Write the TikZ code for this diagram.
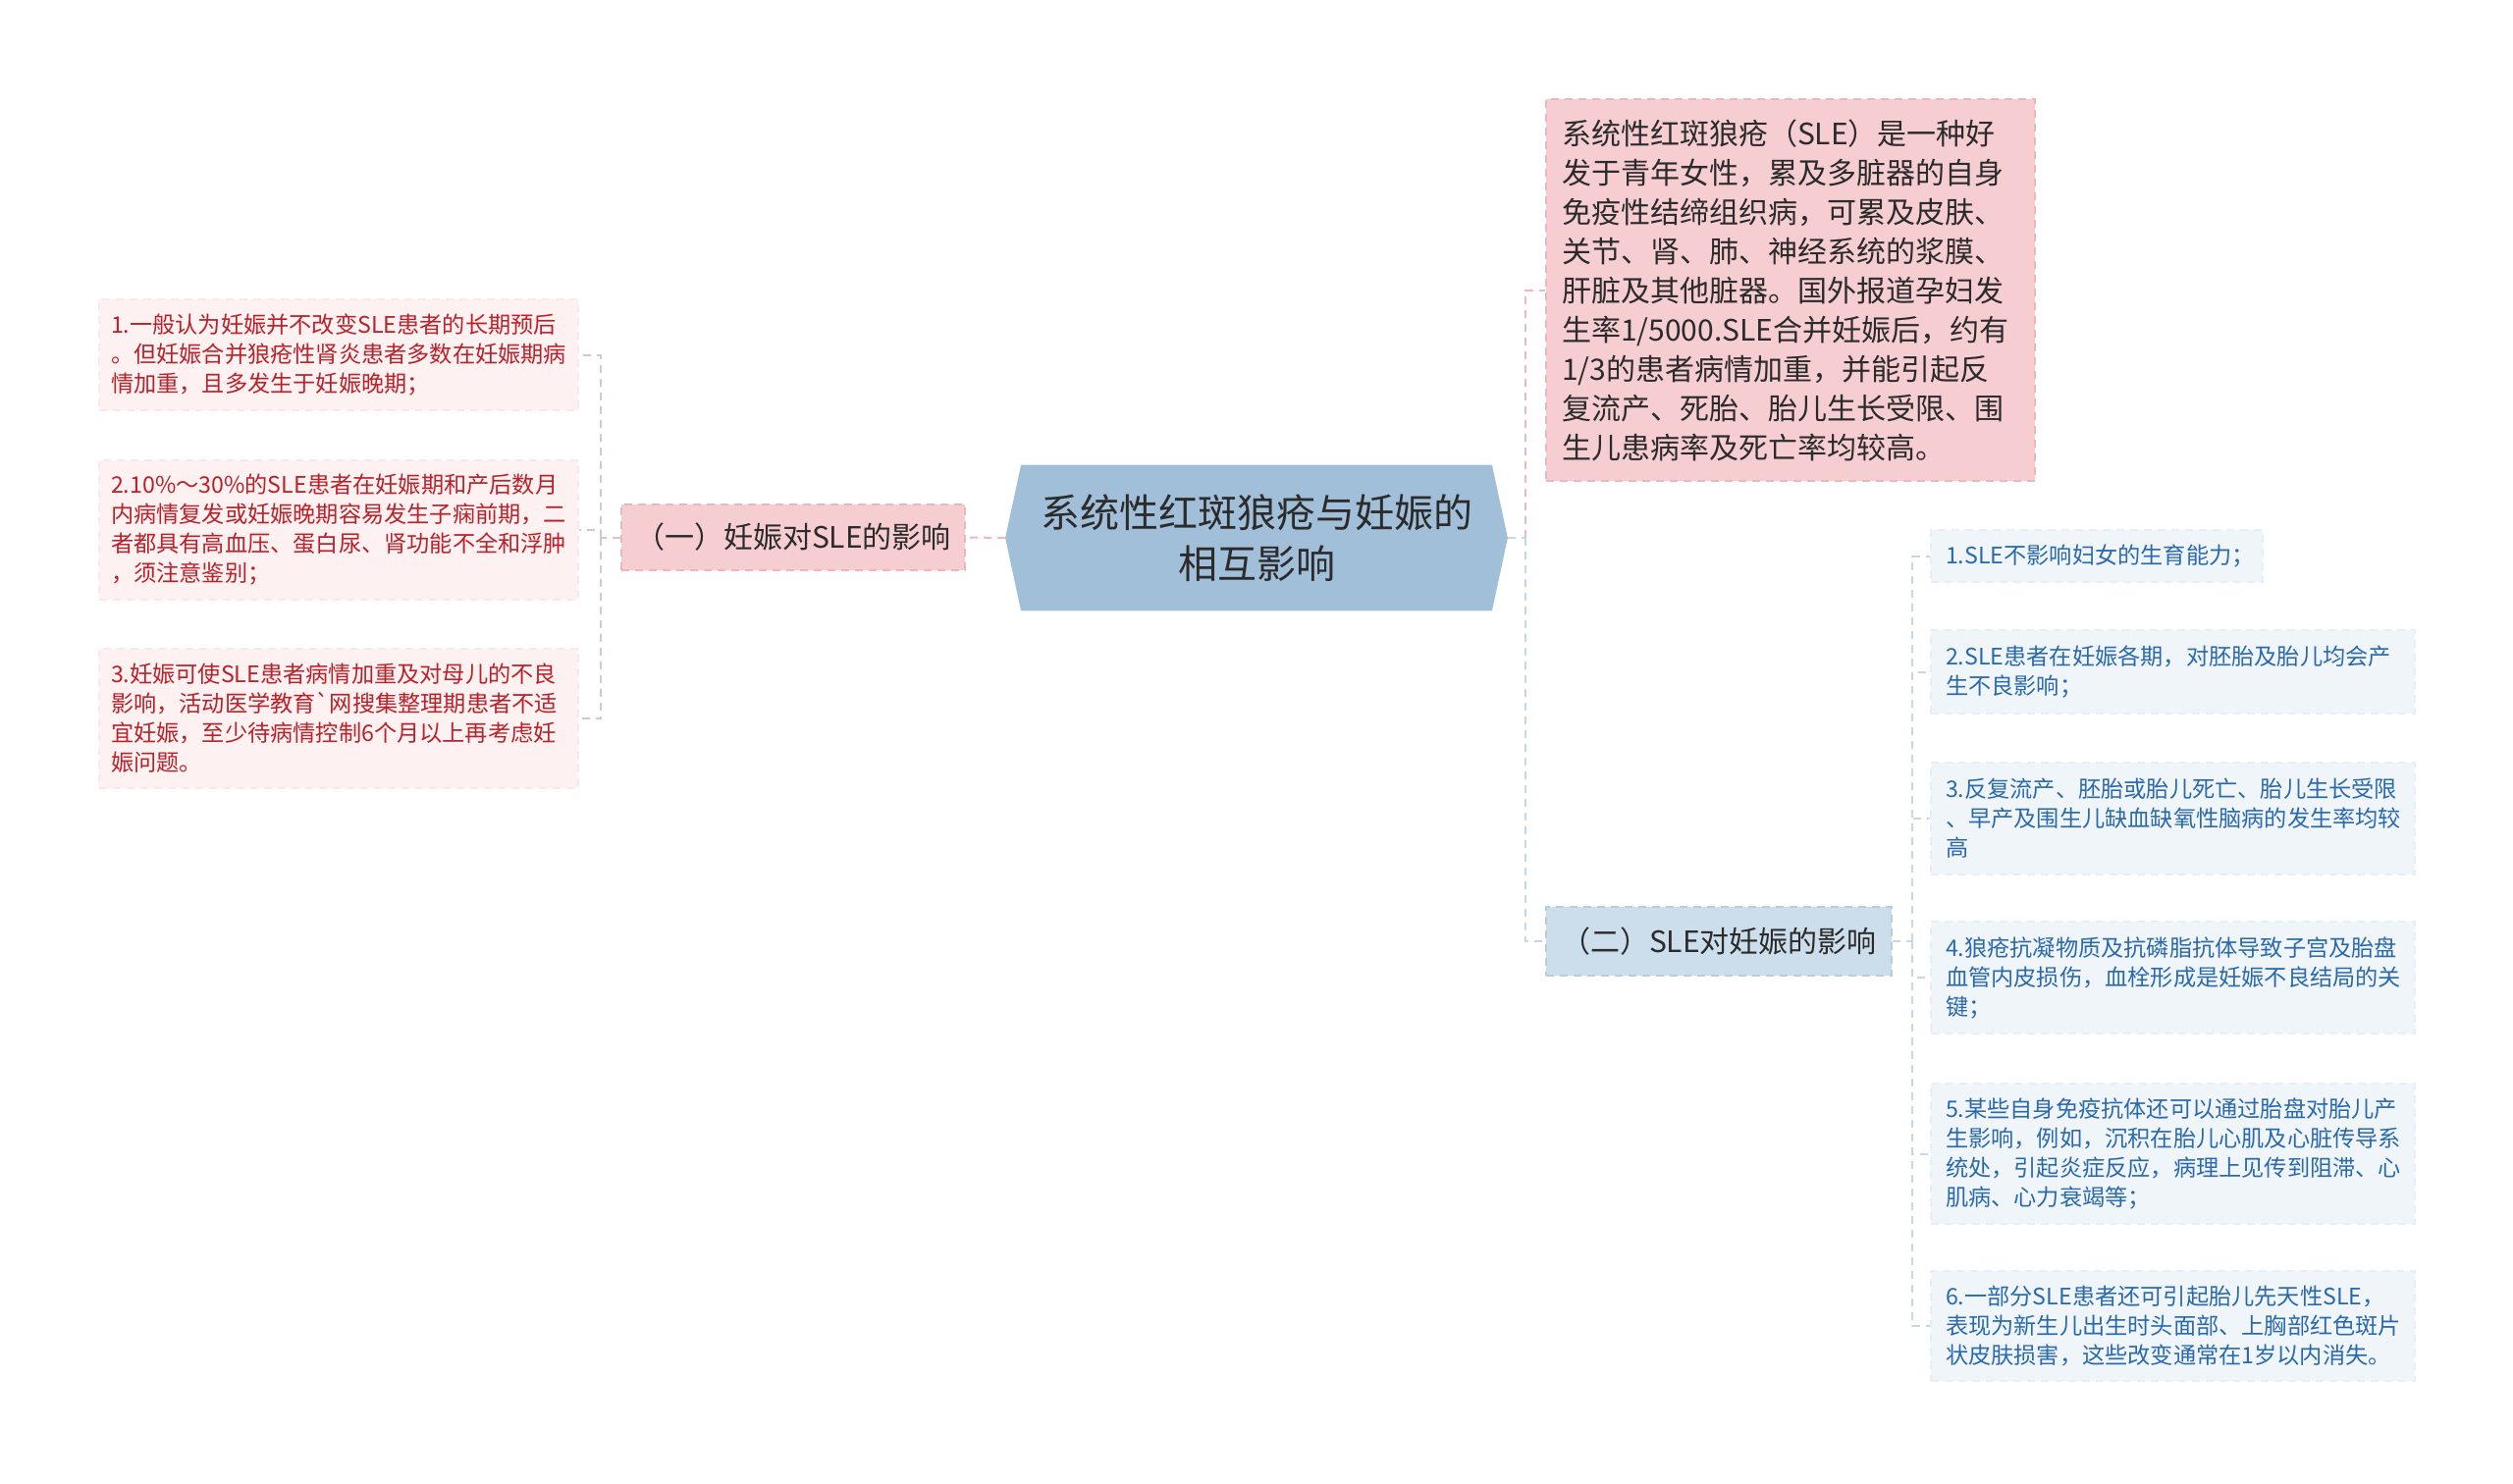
\documentclass[tikz,border=0pt]{standalone}
\usepackage{fontspec}
\newfontfamily\cjk{Noto Sans CJK SC}
\usetikzlibrary{backgrounds}
\definecolor{hexfill}{HTML}{A2BFDA}
\definecolor{darktext}{HTML}{2B2B2B}
\definecolor{pinkfill}{HTML}{F6CDD1}
\definecolor{pinkborder}{HTML}{EBB7BD}
\definecolor{bluefill}{HTML}{CCDDEC}
\definecolor{blueborder}{HTML}{B8CCE0}
\definecolor{litemfill}{HTML}{FDF1F2}
\definecolor{litemborder}{HTML}{FAE8EA}
\definecolor{litemtext}{HTML}{B8222A}
\definecolor{ritemfill}{HTML}{F0F5FA}
\definecolor{ritemborder}{HTML}{E7EEF6}
\definecolor{ritemtext}{HTML}{2A6AAC}
\definecolor{linkpink}{HTML}{EDB9BF}
\definecolor{linkblue}{HTML}{C6D7E8}
\definecolor{linkgray}{HTML}{DCC5C8}
\tikzset{
  conn/.style={line width=1pt, dash pattern=on 4pt off 3pt},
  pinkline/.style={conn, draw=linkpink},
  blueline/.style={conn, draw=linkblue},
  grayline/.style={conn, draw=linkgray},
  litem/.style={rectangle, fill=litemfill, draw=litemborder, line width=0.75pt,
    dash pattern=on 4pt off 3pt, inner xsep=6pt, inner ysep=0pt, text width=232pt,
    text=litemtext, align=left, font=\cjk\fontsize{11.6}{15}\selectfont},
  ritem/.style={rectangle, fill=ritemfill, draw=ritemborder, line width=0.75pt,
    dash pattern=on 4pt off 3pt, inner xsep=7.5pt, inner ysep=0pt, text width=231.5pt,
    text=ritemtext, align=left, font=\cjk\fontsize{11.6}{15}\selectfont},
  topicpink/.style={rectangle, fill=pinkfill, draw=pinkborder, line width=0.9pt,
    dash pattern=on 4pt off 3pt, inner sep=0pt, align=center, text=darktext,
    font=\cjk\fontsize{15}{17}\selectfont},
  topicblue/.style={rectangle, fill=bluefill, draw=blueborder, line width=0.9pt,
    dash pattern=on 4pt off 3pt, inner sep=0pt, align=center, text=darktext,
    font=\cjk\fontsize{15}{17}\selectfont},
  descbox/.style={rectangle, fill=pinkfill, draw=pinkborder, line width=0.9pt,
    dash pattern=on 4pt off 3pt, inner xsep=8pt, inner ysep=0pt, text width=233pt,
    text=darktext, align=left, font=\cjk\fontsize{15}{20}\selectfont},
  rootbox/.style={rectangle, inner sep=0pt, minimum width=255.5pt, minimum height=74pt},
  roottext/.style={align=center, text=darktext, font=\cjk\fontsize{20}{26}\selectfont},
}
\begin{document}
\begin{tikzpicture}[x=0.5pt,y=-0.5pt]
\useasboundingbox[fill=white] (0,0) rectangle (2560,1511);

% root
\node[rootbox] (c) at (1280,548) {};
\fill[hexfill] (c.west) -- ([xshift=8pt]c.north west) -- ([xshift=-8pt]c.north east)
  -- (c.east) -- ([xshift=-8pt]c.south east) -- ([xshift=8pt]c.south west) -- cycle;
\node[roottext] (ct) at (c.center) {系统性红斑狼疮与妊娠的\\相互影响};

% left branch
\node[topicpink, minimum width=175pt, minimum height=33.5pt] (l1) at (808,547.5) {（一）妊娠对SLE的影响};
\node[litem, minimum height=56.5pt] (i1) at (345,361.5) {1.一般认为妊娠并不改变SLE患者的长期预后\\。但妊娠合并狼疮性肾炎患者多数在妊娠期病\\情加重，且多发生于妊娠晚期；};
\node[litem, minimum height=71pt] (i2) at (345,540) {2.10\%～30\%的SLE患者在妊娠期和产后数月\\内病情复发或妊娠晚期容易发生子痫前期，二\\者都具有高血压、蛋白尿、肾功能不全和浮肿\\，须注意鉴别；};
\node[litem, minimum height=71pt] (i3) at (345,732) {3.妊娠可使SLE患者病情加重及对母儿的不良\\影响，活动医学教育`网搜集整理期患者不适\\宜妊娠，至少待病情控制6个月以上再考虑妊\\娠问题。};

% right branch
\node[descbox, minimum height=194.5pt] (d) at (1824,295.5) {系统性红斑狼疮（SLE）是一种好\\发于青年女性，累及多脏器的自身\\免疫性结缔组织病，可累及皮肤、\\关节、肾、肺、神经系统的浆膜、\\肝脏及其他脏器。国外报道孕妇发\\生率1/5000.SLE合并妊娠后，约有\\1/3的患者病情加重，并能引起反\\复流产、死胎、胎儿生长受限、围\\生儿患病率及死亡率均较高。};
\node[topicblue, minimum width=176pt, minimum height=35pt] (l2) at (1751,959) {（二）SLE对妊娠的影响};

\node[ritem, text width=154pt, minimum height=26.5pt] (r1) at (2136,566.5) {1.SLE不影响妇女的生育能力；};
\node[ritem, minimum height=42.5pt] (r2) at (2213.5,684.5) {2.SLE患者在妊娠各期，对胚胎及胎儿均会产\\生不良影响；};
\node[ritem, minimum height=57pt] (r3) at (2213.5,834) {3.反复流产、胚胎或胎儿死亡、胎儿生长受限\\、早产及围生儿缺血缺氧性脑病的发生率均较\\高};
\node[ritem, minimum height=57pt] (r4) at (2213.5,996) {4.狼疮抗凝物质及抗磷脂抗体导致子宫及胎盘\\血管内皮损伤，血栓形成是妊娠不良结局的关\\键；};
\node[ritem, minimum height=71.5pt] (r5) at (2213.5,1175.5) {5.某些自身免疫抗体还可以通过胎盘对胎儿产\\生影响，例如，沉积在胎儿心肌及心脏传导系\\统处，引起炎症反应，病理上见传到阻滞、心\\肌病、心力衰竭等；};
\node[ritem, minimum height=56pt] (r6) at (2213.5,1351) {6.一部分SLE患者还可引起胎儿先天性SLE，\\表现为新生儿出生时头面部、上胸部红色斑片\\状皮肤损害，这些改变通常在1岁以内消失。};

% connectors
\coordinate (lb) at (612,547.5);
\draw[pinkline] (c.west) -- (l1.east);
\draw[grayline] (l1.west) -- (lb);
\draw[grayline] (lb) |- (i1.east);
\draw[grayline] (lb) |- (i2.east);
\draw[grayline] (lb) |- (i3.east);

\coordinate (rb) at (1554,548);
\draw[blueline] (c.east) -- (rb);
\draw[pinkline] (rb) |- (d.west);
\draw[blueline] (rb) |- (l2.west);

\coordinate (rb2) at (1948,959);
\draw[blueline] (l2.east) -- (rb2);
\draw[blueline] (rb2) |- (r1.west);
\draw[blueline] (rb2) |- (r2.west);
\draw[blueline] (rb2) |- (r3.west);
\draw[blueline] (rb2) |- (r4.west);
\draw[blueline] (rb2) |- (r5.west);
\draw[blueline] (rb2) |- (r6.west);
\end{tikzpicture}
\end{document}
